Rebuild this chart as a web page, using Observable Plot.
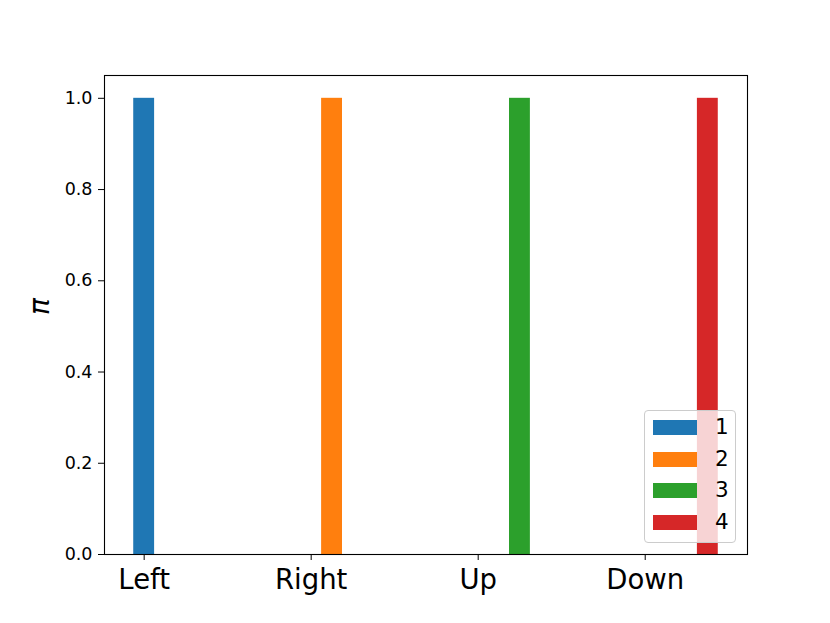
<!DOCTYPE html>
<html>
<head>
<meta charset="utf-8">
<script src="https://cdn.jsdelivr.net/npm/d3@7"></script>
<script src="https://cdn.jsdelivr.net/npm/@observablehq/plot@0.6"></script>
<style>
  html, body { margin: 0; padding: 0; background: #fff; }
  #wrap { position: relative; width: 830px; height: 623px; font-family: "DejaVu Sans", sans-serif; }
  #legend { position: absolute; left: 644px; top: 410px; width: 90px; height: 131px;
    background: rgba(255,255,255,0.8); border: 1px solid #cccccc; border-radius: 4px; }
  .item { position: absolute; left: 8px; height: 15px; }
  .sw { position: absolute; left: 0; top: 0; width: 44px; height: 15px; }
  .lab { position: absolute; left: 62px; top: -6px; font-size: 21.5px; line-height: 26px; color: #000; }
</style>
</head>
<body>
<div id="wrap"></div>
<script>
const categories = ["Left", "Right", "Up", "Down"];
const seriesNames = ["1", "2", "3", "4"];
const seriesValues = [
  [1, 0, 0, 0],
  [0, 1, 0, 0],
  [0, 0, 1, 0],
  [0, 0, 0, 1]
];
const colors = ["#1f77b4", "#ff7f0e", "#2ca02c", "#d62728"];
const yTicks = [0, 0.2, 0.4, 0.6, 0.8, 1.0];

const barW = 0.125;
const rows = [];
seriesValues.forEach((vals, s) => vals.forEach((v, c) => rows.push({c, s, v})));

const chart = Plot.plot({
  width: 830,
  height: 623,
  marginLeft: 104,
  marginRight: 83,
  marginTop: 75,
  marginBottom: 69,
  style: {fontFamily: "DejaVu Sans, sans-serif", background: "#fff", color: "#000"},
  x: {type: "linear", domain: [-0.2375, 3.6125]},
  y: {domain: [0, 1.05]},
  marks: [
    Plot.rectY(rows.filter(d => d.v > 0), {
      x1: d => d.c + d.s * barW - barW / 2,
      x2: d => d.c + d.s * barW + barW / 2,
      y1: 0,
      y2: d => d.v,
      fill: d => colors[d.s]
    }),
    Plot.axisX({ticks: [0, 1, 2, 3], tickFormat: i => categories[i], tickSize: 6, tickPadding: 9,
      fontSize: 27.5, label: null, stroke: "#000"}),
    Plot.axisY({ticks: yTicks, tickFormat: d3.format(".1f"), tickSize: 6, tickPadding: 6,
      fontSize: 17.5, label: null, stroke: "#000"}),
    Plot.text(["π"], {frameAnchor: "left", dx: -64, rotate: -90, text: d => d,
      fontSize: 28, fontStyle: "italic", fill: "#000"}),
    Plot.frame({stroke: "#000", strokeWidth: 1.1})
  ]
});

const wrap = document.getElementById("wrap");
wrap.appendChild(chart);

const legend = document.createElement("div");
legend.id = "legend";
seriesNames.forEach((name, i) => {
  const item = document.createElement("div");
  item.className = "item";
  item.style.top = (9 + i * 31.7) + "px";
  item.innerHTML = `<div class="sw" style="background:${colors[i]}"></div><div class="lab">${name}</div>`;
  legend.appendChild(item);
});
wrap.appendChild(legend);
</script>
</body>
</html>
